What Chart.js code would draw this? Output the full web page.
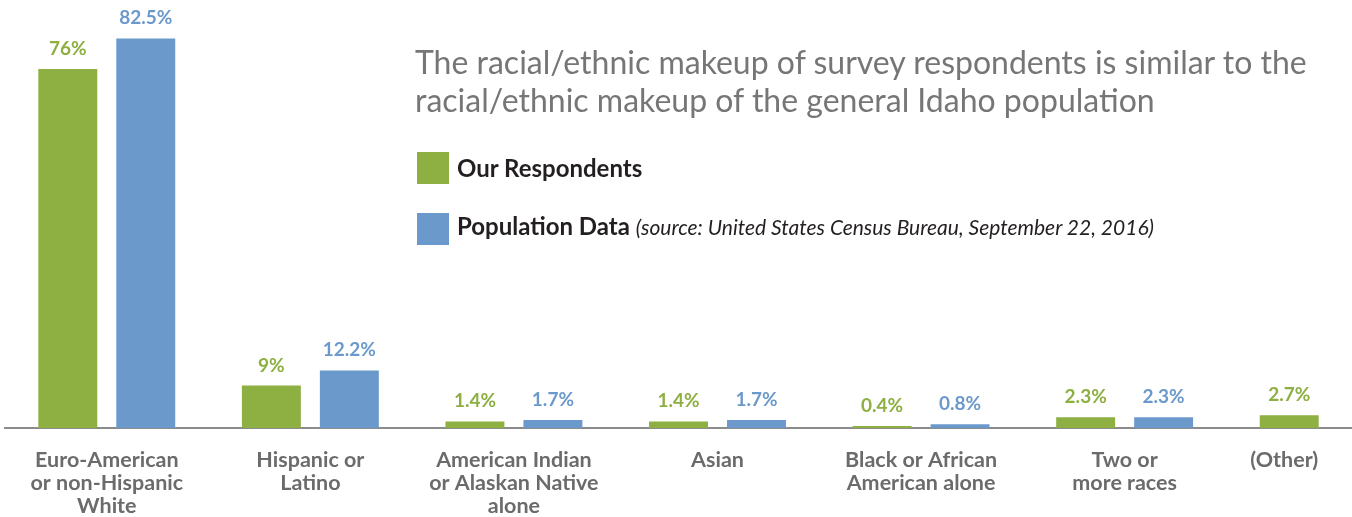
<!DOCTYPE html>
<html>
<head>
<meta charset="utf-8">
<script src="https://cdn.jsdelivr.net/npm/chart.js@4.4.1/dist/chart.umd.min.js"></script>
<style>
  html, body { margin: 0; padding: 0; background: #fff; overflow: hidden; }
  #wrap { position: relative; width: 1430px; height: 517px; }
  #title {
    position: absolute; left: 415px; top: 43px;
    font-family: Lato, sans-serif; font-size: 32px; line-height: 38px;
    color: #767676; white-space: nowrap;
  }
  .box { position: absolute; left: 417px; width: 32px; height: 32px; }
  .txt {
    position: absolute; left: 457px; height: 32px; line-height: 32px;
    font-family: Lato, sans-serif; color: #231f20; white-space: nowrap;
    font-size: 24px; font-weight: bold;
  }
  .src { font-size: 21px; font-weight: normal; font-style: italic; }
</style>
</head>
<body>
<div id="wrap">
  <canvas id="chart"></canvas>
  <div id="title">The racial/ethnic makeup of survey respondents is similar to the<br>racial/ethnic makeup of the general Idaho population</div>
  <div class="box" style="top:152px; background:#8eaf42"></div>
  <div class="txt" style="top:152px">Our Respondents</div>
  <div class="box" style="top:213px; background:#6c99cb"></div>
  <div class="txt" style="top:210px">Population Data <span class="src">(source: United States Census Bureau, September 22, 2016)</span></div>
</div>
<script>
// Data
const categories = [
    ['Euro-American', 'or non-Hispanic', 'White'],
    ['Hispanic or', 'Latino'],
    ['American Indian', 'or Alaskan Native', 'alone'],
    ['Asian'],
    ['Black or African', 'American alone'],
    ['Two or', 'more races'],
    ['(Other)']
];
const respondents = [76, 9, 1.4, 1.4, 0.4, 2.3, 2.7];
const population = [82.5, 12.2, 1.7, 1.7, 0.8, 2.3, null];

const GREEN = '#8eaf42';
const BLUE = '#6c99cb';
const LABEL_GRAY = '#6b6b6b';

// value labels above each bar
const valueLabels = {
    id: 'valueLabels',
    afterDatasetsDraw(chart) {
        const ctx = chart.ctx;
        ctx.save();
        ctx.font = "bold 19px Lato, sans-serif";
        ctx.textAlign = 'center';
        ctx.textBaseline = 'alphabetic';
        chart.data.datasets.forEach((ds, di) => {
            const meta = chart.getDatasetMeta(di);
            meta.data.forEach((bar, i) => {
                const v = ds.data[i];
                if (v === null || v === undefined) return;
                ctx.fillStyle = ds.backgroundColor;
                ctx.fillText(v + '%', bar.x, bar.y - 14);
            });
        });
        ctx.restore();
    }
};

// category labels under the axis (single-bar groups centered under their bar)
const categoryLabels = {
    id: 'categoryLabels',
    afterDraw(chart) {
        const ctx = chart.ctx;
        const xScale = chart.scales.x;
        const greenMeta = chart.getDatasetMeta(0);
        const base = chart.chartArea.bottom;
        ctx.save();
        ctx.font = "bold 21.5px Lato, sans-serif";
        ctx.fillStyle = LABEL_GRAY;
        ctx.textAlign = 'center';
        ctx.textBaseline = 'alphabetic';
        categories.forEach((lines, i) => {
            let x = xScale.getPixelForValue(i);
            if (population[i] === null) x = greenMeta.data[i].x - 5;
            lines.forEach((line, li) => {
                ctx.fillText(line, x, base + 38.5 + li * 23);
            });
        });
        ctx.restore();
    }
};

const ctx = document.getElementById('chart').getContext('2d');
new Chart(ctx, {
    type: 'bar',
    data: {
        labels: categories.map(c => c.join(' ')),
        datasets: [
            {
                label: 'Our Respondents',
                data: respondents,
                backgroundColor: GREEN,
                borderWidth: 0,
                categoryPercentage: 0.766,
                barPercentage: 0.756
            },
            {
                label: 'Population Data',
                data: population,
                backgroundColor: BLUE,
                borderWidth: 0,
                categoryPercentage: 0.766,
                barPercentage: 0.756
            }
        ]
    },
    options: {
        responsive: true,
        maintainAspectRatio: false,
        animation: false,
        layout: { padding: { left: 5, right: 0, top: 3, bottom: 89 } },
        scales: {
            x: {
                grid: { display: false, drawTicks: false },
                ticks: { display: false },
                border: { display: true, color: '#8c8c8c', width: 2 }
            },
            y: {
                display: false,
                min: 0,
                max: 90
            }
        },
        plugins: {
            legend: { display: false },
            tooltip: { enabled: false }
        }
    },
    plugins: [valueLabels, categoryLabels]
});
</script>
</body>
</html>
